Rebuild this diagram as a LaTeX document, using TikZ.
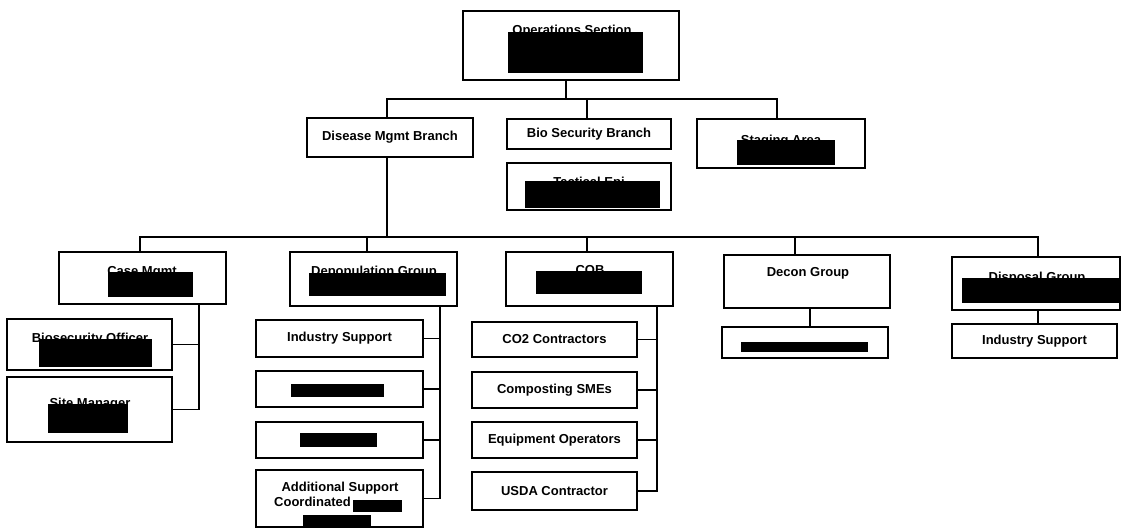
\documentclass[tikz,border=0pt]{standalone}
\usepackage{fontspec}
\setmainfont{Liberation Sans}
\begin{document}
\begin{tikzpicture}[x=1pt,y=-1pt,
  box/.style={draw, line width=2.1pt, fill=white, inner sep=0pt, align=center,
    font=\fontsize{13}{15}\selectfont\bfseries},
  lbl/.style={inner sep=0pt, font=\fontsize{13}{15}\selectfont\bfseries},
  conn/.style={line width=1.8pt},
  redact/.style={fill=black}]
\useasboundingbox[fill=white] (0,0) rectangle (1126,529);

% ---- boxes
\node[box, minimum width=216, minimum height=69] (ops) at (571,45.5) {};
\node[box, minimum width=166, minimum height=39] (dis) at (390,137.5) {Disease Mgmt Branch};
\node[box, minimum width=164, minimum height=30] (bio) at (589,134) {Bio Security Branch};
\node[box, minimum width=164, minimum height=47] (tac) at (589,186.5) {};
\node[box, minimum width=168, minimum height=49] (stg) at (781,143.5) {};

\node[box, minimum width=167, minimum height=52] (case) at (142.5,278) {};
\node[box, minimum width=165, minimum height=51] (bso) at (89.5,344.5) {};
\node[box, minimum width=165, minimum height=65] (site) at (89.5,409.5) {};

\node[box, minimum width=167, minimum height=54] (dp) at (373.5,279) {};
\node[box, minimum width=167, minimum height=37] (dp1) at (339.5,338.5) {Industry Support};
\node[box, minimum width=167, minimum height=36] (dp2) at (339.5,389) {};
\node[box, minimum width=167, minimum height=36] (dp3) at (339.5,440) {};
\node[box, minimum width=167, minimum height=57] (dp4) at (339.5,498.5) {};

\node[box, minimum width=167, minimum height=54] (cob) at (589.5,279) {};
\node[box, minimum width=165, minimum height=35] (cb1) at (554.5,339.5) {CO2 Contractors};
\node[box, minimum width=165, minimum height=36] (cb2) at (554.5,390) {Composting SMEs};
\node[box, minimum width=165, minimum height=36] (cb3) at (554.5,440) {Equipment Operators};
\node[box, minimum width=165, minimum height=38] (cb4) at (554.5,491) {USDA Contractor};

\node[box, minimum width=166, minimum height=53] (dec) at (807,281.5) {};
\node[box, minimum width=166, minimum height=31] (dec1) at (805,342.5) {};

\node[box, minimum width=168, minimum height=53] (dsp) at (1036,283.5) {};
\node[box, minimum width=165, minimum height=34] (dsp1) at (1034.5,341) {Industry Support};

% ---- texts partly covered
\node[lbl] (tops) at (572,31) {Operations Section};
\node[lbl] (ttac) at (589,183) {Tactical Epi};
\node[lbl] (tstg) at (781,141) {Staging Area};
\node[lbl] (tcase) at (142,272) {Case Mgmt};
\node[lbl] (tbso) at (90,339) {Biosecurity Officer};
\node[lbl] (tsite) at (90,404) {Site Manager};
\node[lbl] (tdp) at (374,272) {Depopulation Group};
\node[lbl] (tcob) at (590,270) {COB};
\node[lbl] (tdec) at (808,273) {Decon Group};
\node[lbl] (tdsp) at (1037,278) {Disposal Group};
\node[lbl] (tadd1) at (340,488) {Additional Support};
\node[lbl, anchor=west] (tadd2) at (274,502) {Coordinated};

% ---- redactions
\fill[redact] (508,32) rectangle (643,73);
\fill[redact] (525,181) rectangle (660,208);
\fill[redact] (737,140) rectangle (835,165);
\fill[redact] (108,272) rectangle (193,297);
\fill[redact] (39,339) rectangle (152,367);
\fill[redact] (48,404) rectangle (128,433);
\fill[redact] (309,273) rectangle (446,296);
\fill[redact] (291,384) rectangle (384,397);
\fill[redact] (300,433) rectangle (377,447);
\fill[redact] (353,500) rectangle (402,512);
\fill[redact] (303,515) rectangle (371,526);
\fill[redact] (536,271) rectangle (642,294);
\fill[redact] (741,342) rectangle (868,352);
\fill[redact] (962,278) rectangle (1120,303);

% ---- connector coordinates
\coordinate (b1) at (566,99);
\coordinate (b2) at (387,237);
\coordinate (x587) at (587,0);
\coordinate (x777) at (777,0);
\coordinate (x140) at (140,0);
\coordinate (x367) at (367,0);
\coordinate (x795) at (795,0);
\coordinate (x1038) at (1038,0);
\coordinate (x199) at (199,0);
\coordinate (x440) at (440,0);
\coordinate (x657) at (657,0);
\coordinate (x810) at (810,0);

% ---- connectors
\draw[conn] (ops.south -| b1) -- (b1);
\draw[conn] (dis.north -| b2) -- (b2 |- b1) -- (x777 |- b1) -- (stg.north -| x777);
\draw[conn] (bio.north -| x587) -- (x587 |- b1);

\draw[conn] (dis.south -| b2) -- (b2);
\draw[conn] (case.north -| x140) -- (x140 |- b2) -- (x1038 |- b2) -- (dsp.north -| x1038);
\draw[conn] (dp.north -| x367) -- (x367 |- b2);
\draw[conn] (cob.north -| x587) -- (x587 |- b2);
\draw[conn] (dec.north -| x795) -- (x795 |- b2);

\draw[conn] (case.south -| x199) |- (site.east);
\draw[conn] (bso.east) -- (bso.east -| x199);

\draw[conn] (dp.south -| x440) |- (dp4.east);
\draw[conn] (dp1.east) -- (dp1.east -| x440);
\draw[conn] (dp2.east) -- (dp2.east -| x440);
\draw[conn] (dp3.east) -- (dp3.east -| x440);

\draw[conn] (cob.south -| x657) |- (cb4.east);
\draw[conn] (cb1.east) -- (cb1.east -| x657);
\draw[conn] (cb2.east) -- (cb2.east -| x657);
\draw[conn] (cb3.east) -- (cb3.east -| x657);

\draw[conn] (dec.south -| x810) -- (dec1.north -| x810);
\draw[conn] (dsp.south -| x1038) -- (dsp1.north -| x1038);
\end{tikzpicture}
\end{document}
